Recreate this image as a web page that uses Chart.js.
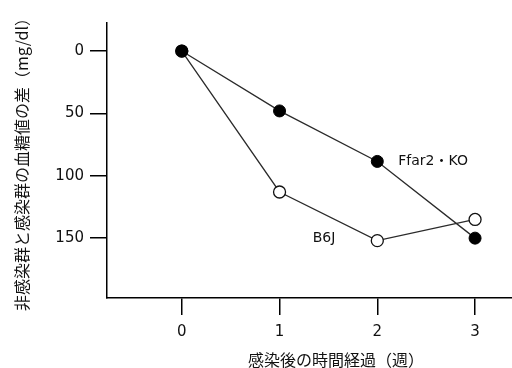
<!DOCTYPE html>
<html>
<head>
<meta charset="utf-8">
<script src="https://cdn.jsdelivr.net/npm/chart.js@4/dist/chart.umd.min.js"></script>
<style>
  html, body { margin: 0; padding: 0; background: #fff; overflow: hidden; }
  #wrap { width: 565px; height: 368px; }
</style>
</head>
<body>
<div id="wrap"><canvas id="chart1" width="565" height="368"></canvas></div>
<script>
// semanas despues de la infeccion
var weeks = [0, 1, 2, 3];
// Ffar2・KO (puntos negros)
var koValues = [0, 48, 88.5, 150];
// B6J (puntos blancos)
var b6jValues = [0, 113, 152, 135];
var yTicks = [0, 50, 100, 150];
var xTicks = [0, 1, 2, 3];
var seriesNames = ['Ffar2・KO', 'B6J'];

function toPoints(xs, ys) {
  var pts = [];
  for (var i = 0; i < xs.length; i++) pts.push({x: xs[i], y: ys[i]});
  return pts;
}

// etiquetas de las series junto a los puntos
var seriesLabels = {
  id: 'seriesLabels',
  afterDatasetsDraw: function(chart) {
    var ctx = chart.ctx;
    var xs = chart.scales.x, ys = chart.scales.y;
    ctx.save();
    ctx.fillStyle = '#111';
    ctx.font = '14px "DejaVu Sans", "Noto Sans CJK JP"';
    ctx.textBaseline = 'middle';
    ctx.textAlign = 'left';
    ctx.fillText(seriesNames[0], xs.getPixelForValue(weeks[2]) + 21, ys.getPixelForValue(koValues[2]));
    ctx.textAlign = 'right';
    ctx.fillText(seriesNames[1], xs.getPixelForValue(weeks[2]) - 42, ys.getPixelForValue(b6jValues[2]) - 2);
    ctx.restore();
  }
};

var chart1 = document.getElementById('chart1').getContext('2d');
var chart1_line = new Chart(chart1, {
  type: 'scatter',
  data: {
    datasets: [
      {
        label: seriesNames[0],
        data: toPoints(weeks, koValues),
        showLine: true,
        borderColor: '#2a2a2a',
        borderWidth: 1.3,
        pointRadius: 6,
        pointBackgroundColor: '#000',
        pointBorderColor: '#000',
        pointBorderWidth: 1
      },
      {
        label: seriesNames[1],
        data: toPoints(weeks, b6jValues),
        showLine: true,
        borderColor: '#2a2a2a',
        borderWidth: 1.3,
        pointRadius: 6,
        pointBackgroundColor: '#fff',
        pointBorderColor: '#111',
        pointBorderWidth: 1.3
      }
    ]
  },
  options: {
    responsive: false,
    animation: false,
    events: [],
    layout: { autoPadding: false, padding: { left: 0, right: 0, top: 23, bottom: 0 } },
    plugins: {
      legend: { display: false },
      tooltip: { enabled: false }
    },
    scales: {
      x: {
        type: 'linear',
        min: -0.765,
        max: 3.92,
        afterBuildTicks: function(scale) {
          scale.ticks = xTicks.map(function(v) { return {value: v}; });
        },
        afterFit: function(scale) { scale.height = 70; },
        grid: { drawOnChartArea: false, drawTicks: true, tickLength: 17, color: '#000', lineWidth: 1.5 },
        border: { display: true, color: '#000', width: 1.5 },
        ticks: { color: '#111', padding: 8, font: { family: 'DejaVu Sans', size: 15 } },
        title: {
          display: true,
          text: '感染後の時間経過（週）',
          color: '#111',
          padding: { top: 0, bottom: -2 },
          font: { family: 'Noto Sans CJK JP', size: 16 }
        }
      },
      y: {
        type: 'linear',
        reverse: true,
        min: -22.5,
        max: 198,
        afterBuildTicks: function(scale) {
          scale.ticks = yTicks.map(function(v) { return {value: v}; });
        },
        afterFit: function(scale) { scale.width = 107; },
        grid: { drawOnChartArea: false, drawTicks: true, tickLength: 17, color: '#000', lineWidth: 1.5 },
        border: { display: true, color: '#000', width: 1.5 },
        ticks: { color: '#111', padding: 6, font: { family: 'DejaVu Sans', size: 15 } },
        title: {
          display: true,
          text: '非感染群と感染群の血糖値の差（mg/dl）',
          color: '#111',
          padding: { top: 12, bottom: 0 },
          font: { family: 'Noto Sans CJK JP', size: 16 }
        }
      }
    }
  },
  plugins: [seriesLabels]
});
</script>
</body>
</html>
